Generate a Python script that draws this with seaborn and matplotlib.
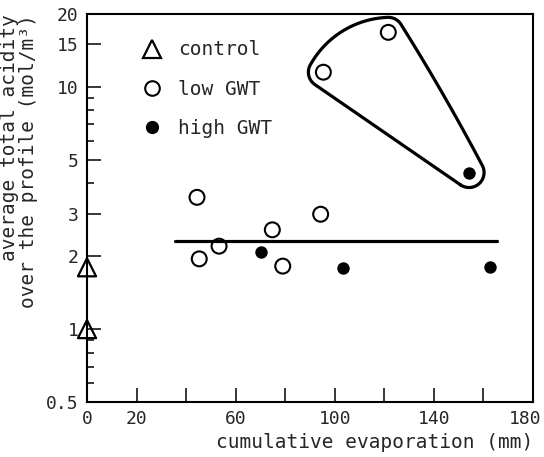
import numpy as np
import matplotlib
matplotlib.use("Agg")
import matplotlib.pyplot as plt
import matplotlib.ticker as mticker
from matplotlib.lines import Line2D
from matplotlib.transforms import ScaledTranslation
import seaborn as sns

# values
control_x = [0, 0]
control_y = [1.8, 1.0]

low_x = [44.4, 45.3, 53.3, 74.8, 79.0, 94.3, 95.4, 121.6]
low_y = [3.5, 1.95, 2.2, 2.57, 1.82, 2.98, 11.5, 16.8]

high_x = [70.2, 103.2, 154.2, 162.6]
high_y = [2.09, 1.78, 4.43, 1.80]

mean_x = [35.5, 165.3]
mean_y = [2.31, 2.31]

y_major = [0.5, 1, 2, 3, 5, 10, 15, 20]
y_minor = [0.6, 0.7, 0.8, 0.9, 4, 6, 7, 8, 9]
x_ticks = [0, 20, 40, 60, 80, 100, 120, 140, 160, 180]
x_labels = ["0", "20", "", "60", "", "100", "", "140", "", "180"]

sns.set_style("ticks")
plt.rcParams['font.family'] = ['DejaVu Sans Mono', 'DejaVu Sans']
plt.rcParams['axes.linewidth'] = 1.5

fig = plt.figure(figsize=(5.44, 4.57), dpi=100)
ax = fig.add_axes([87 / 544, 55 / 457, 446 / 544, 388 / 457])
ax.set_yscale("log")
ax.set_xlim(0, 180)
ax.set_ylim(0.5, 20)

sns.scatterplot(x=control_x, y=control_y, marker="^", s=170, facecolor="none",
                edgecolor="black", linewidth=1.6, ax=ax, clip_on=False, zorder=5)
sns.scatterplot(x=low_x, y=low_y, marker="o", s=115, facecolor="none",
                edgecolor="black", linewidth=1.5, ax=ax, clip_on=False, zorder=5)
sns.scatterplot(x=high_x, y=high_y, marker="o", s=80, color="black",
                edgecolor="black", linewidth=0, ax=ax, clip_on=False, zorder=5)

ax.plot(mean_x, mean_y, color="black", lw=2.3, solid_capstyle="round")

# hand-drawn loop around the points above 4 mol/m3, built in pixel space
cx = np.array(low_x + high_x)
cy = np.array(low_y + high_y)
sel = cy > 4
pts = ax.transData.transform(np.column_stack([cx[sel], cy[sel]]))
cen = pts.mean(axis=0)
pts = pts[np.argsort(np.arctan2(pts[:, 1] - cen[1], pts[:, 0] - cen[0]))]
# ccw order: bottom-right, top, left
r = 15
bulge = [1.5, 10, 0]   # right edge, top-left edge, lower-left edge


def unit(v):
    return v / np.hypot(*v)


def arc(c, rad, v0, v1, num=40):
    a0 = np.arctan2(v0[1], v0[0])
    a1 = np.arctan2(v1[1], v1[0])
    if a1 < a0:
        a1 += 2 * np.pi
    a = np.linspace(a0, a1, num)
    return c + rad * np.column_stack([np.cos(a), np.sin(a)])


n = len(pts)
edges = []
for i in range(n):
    a, b = pts[i], pts[(i + 1) % n]
    p = unit(np.array([b[1] - a[1], a[0] - b[0]]))
    if bulge[i] > 0:
        half = np.hypot(*(b - a)) / 2
        h = (half ** 2 - bulge[i] ** 2) / (2 * bulge[i])
        c = (a + b) / 2 - h * p
        edges.append((unit(a - c), unit(b - c), c, np.hypot(half, h) + r))
    else:
        edges.append((p, p, None, None))

loop = []
for k in range(n):
    loop.append(arc(pts[k], r, edges[k - 1][1], edges[k][0]))
    ns, ne, c, big = edges[k]
    if c is not None:
        loop.append(arc(c, big, ns, ne))
loop = np.vstack(loop + [loop[0][:1]])
loop = ax.transData.inverted().transform(loop)
ax.plot(loop[:, 0], loop[:, 1], color="black", lw=2.3, clip_on=False,
        solid_joinstyle="round")

ax.yaxis.set_major_locator(mticker.FixedLocator(y_major))
ax.yaxis.set_major_formatter(mticker.FixedFormatter([str(v) for v in y_major]))
ax.yaxis.set_minor_locator(mticker.FixedLocator(y_minor))
ax.yaxis.set_minor_formatter(mticker.NullFormatter())
ax.set_xticks(x_ticks)
ax.set_xticklabels(x_labels)

ax.tick_params(which="major", direction="in", length=10, width=1.1,
               labelsize=13, pad=6, color="black")
ax.tick_params(which="minor", direction="in", length=5, width=1.1, color="black")
for s in ax.spines.values():
    s.set_color("black")

last = ax.get_xticklabels()[-1]
last.set_transform(last.get_transform() + ScaledTranslation(-6 / 72, 0, fig.dpi_scale_trans))

ax.set_xlabel("cumulative evaporation (mm)", fontsize=14, loc="right", labelpad=3)
ax.set_ylabel("average total acidity\nover the profile (mol/m³)", fontsize=14,
              loc="top", labelpad=6, linespacing=1.0)

handles = [
    Line2D([], [], marker="^", ls="none", mfc="none", mec="black", ms=13, mew=1.6),
    Line2D([], [], marker="o", ls="none", mfc="none", mec="black", ms=10.5, mew=1.5),
    Line2D([], [], marker="o", ls="none", mfc="black", mec="black", ms=8.5),
]
ax.legend(handles, ["control", "low GWT", "high GWT"], loc="upper left",
          bbox_to_anchor=(0.125, 0.932), frameon=False, fontsize=14,
          handlelength=1.0, handletextpad=0.8, labelspacing=1.05,
          borderpad=0, borderaxespad=0)

fig.savefig("out.png", dpi=100)
